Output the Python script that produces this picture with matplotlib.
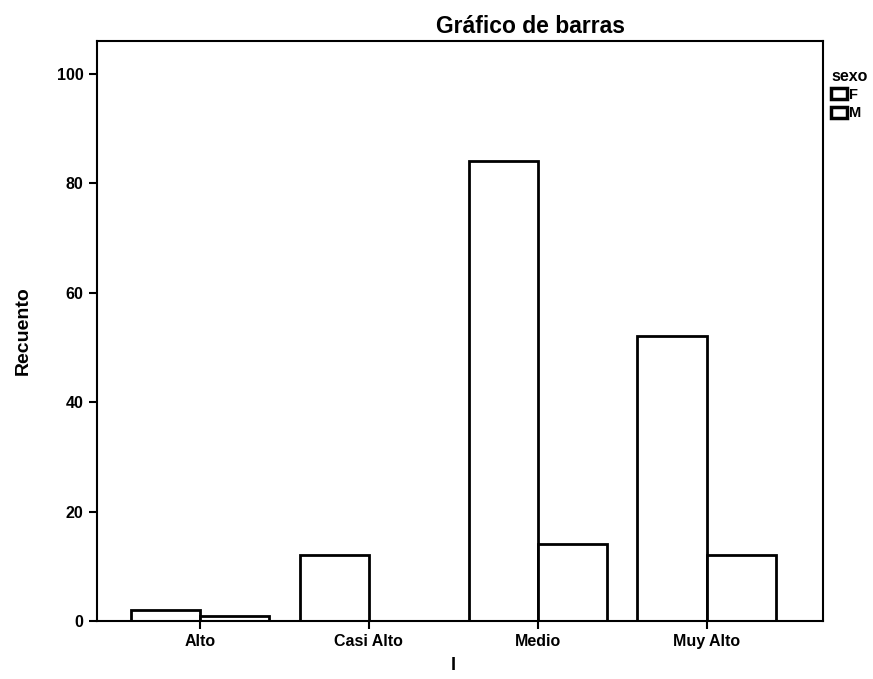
import numpy as np
import matplotlib.pyplot as plt
from matplotlib.patches import Patch

plt.rcParams['font.family'] = ['Liberation Sans', 'DejaVu Sans']

categorias = ["Alto", "Casi Alto", "Medio", "Muy Alto"]
sexo = ["F", "M"]
recuento_f = [2, 12, 84, 52]
recuento_m = [1, 0, 14, 12]

fig = plt.figure(figsize=(8.73, 6.79), dpi=100)
ax = fig.add_axes([0.111, 0.0854, 0.832, 0.8542])

x = np.arange(len(categorias))
w = 0.41
ax.bar(x - w / 2, recuento_f, w, color="white", edgecolor="black", linewidth=2)
ax.bar(x + w / 2, recuento_m, w, color="white", edgecolor="black", linewidth=2)

ax.set_xlim(-0.61, 3.69)
ax.set_ylim(0, 106)
ax.set_yticks([0, 20, 40, 60, 80, 100])
ax.set_xticks(x)
ax.set_xticklabels(categorias, fontsize=11.5, fontweight="bold")
for t in ax.get_yticklabels():
    t.set_fontweight("bold")
ax.tick_params(axis="y", labelsize=11.5, length=6, width=1.5)
ax.tick_params(axis="x", length=6, width=1.5)
for s in ax.spines.values():
    s.set_linewidth(1.5)

ax.set_ylabel("Recuento", fontsize=14, fontweight="bold", labelpad=18)
ax.set_xlabel("I", fontsize=13, fontweight="bold")
ax.xaxis.set_label_coords(0.49, -0.062)
fig.text(0.608, 0.961, "Gráfico de barras", fontsize=16.5, fontweight="bold",
         ha="center", va="center")

handles = [Patch(facecolor="white", edgecolor="black", linewidth=2.5) for _ in sexo]
leg = fig.legend(handles, sexo, title="sexo", loc="upper left",
                 bbox_to_anchor=(0.942, 0.912), frameon=False,
                 prop={"size": 10.5, "weight": "bold"},
                 title_fontproperties={"size": 11.5, "weight": "bold"},
                 handlelength=1.1, handleheight=0.8,
                 handletextpad=0.15, labelspacing=0.3, borderpad=0.1)
leg._legend_box.align = "left"

fig.savefig("out.png", dpi=100)
